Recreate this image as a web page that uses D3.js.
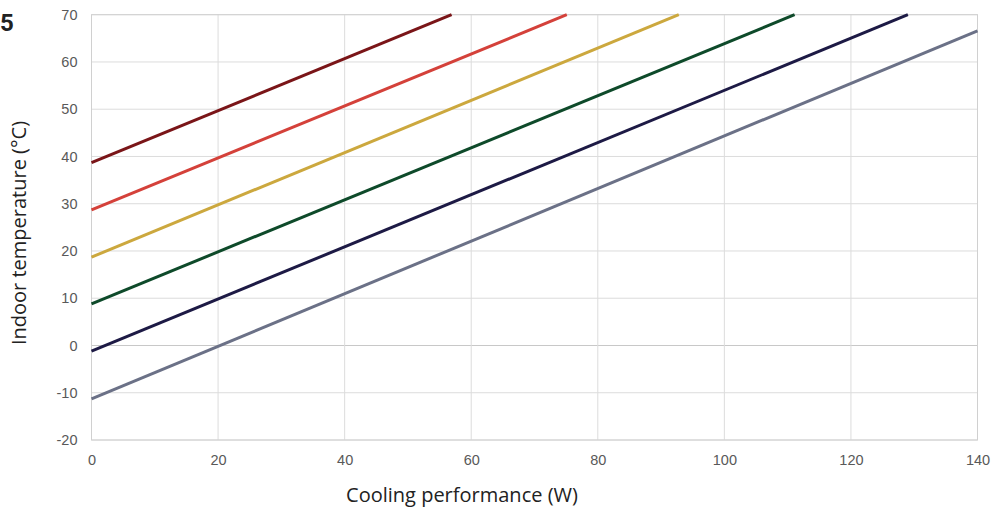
<!DOCTYPE html>
<html>
<head>
<meta charset="utf-8">
<script src="https://cdn.jsdelivr.net/npm/d3@7"></script>
<style>
  html, body { margin: 0; padding: 0; background: #fff; }
  svg { display: block; }
</style>
</head>
<body>
<svg id="chart" width="997" height="512"></svg>
<script>
// Cooling performance (W) vs indoor temperature (°C), one line per curve
const xTicks = [0, 20, 40, 60, 80, 100, 120, 140];
const yTicks = [-20, -10, 0, 10, 20, 30, 40, 50, 60, 70];

const curveA = [[0, 38.7], [56.9, 70]];
const curveB = [[0, 28.7], [75.1, 70]];
const curveC = [[0, 18.7], [92.8, 70]];
const curveD = [[0, 8.8], [111.1, 70]];
const curveE = [[0, -1.2], [129.0, 70]];
const curveF = [[0, -11.3], [140, 66.6]];

const curves = [curveA, curveB, curveC, curveD, curveE, curveF];
const colors = ["#7a1518", "#d4413a", "#cca83e", "#0e4a2a", "#1d1a45", "#6b7187"];

const svg = d3.select("#chart");
const plotL = 91.5, plotR = 977.5, plotT = 14.7, plotB = 440;

const x = d3.scaleLinear().domain([0, 140]).range([plotL, plotR]);
const y = d3.scaleLinear().domain([-20, 70]).range([plotB, plotT]);

// grid
svg.append("g").selectAll("line").data(yTicks).join("line")
  .attr("x1", plotL).attr("x2", plotR)
  .attr("y1", d => y(d)).attr("y2", d => y(d))
  .attr("stroke", d => d === 0 ? "#c8c8c8" : "#dcdcdc").attr("stroke-width", 1);
svg.append("g").selectAll("line").data(xTicks).join("line")
  .attr("y1", plotT).attr("y2", plotB)
  .attr("x1", d => x(d)).attr("x2", d => x(d))
  .attr("stroke", "#dcdcdc").attr("stroke-width", 1);
svg.append("rect").attr("x", plotL).attr("y", plotT)
  .attr("width", plotR - plotL).attr("height", plotB - plotT)
  .attr("fill", "none").attr("stroke", "#d0d0d0");

// tick labels (plain hyphen for negatives)
const fmt = d => String(d);
const yAxis = d3.axisLeft(y).tickValues(yTicks).tickSize(0).tickPadding(14).tickFormat(fmt);
const gy = svg.append("g").attr("transform", `translate(${plotL},0)`).call(yAxis);
const xAxis = d3.axisBottom(x).tickValues(xTicks).tickSize(0).tickPadding(14.5).tickFormat(fmt);
const gx = svg.append("g").attr("transform", `translate(0,${plotB})`).call(xAxis);
[gy, gx].forEach(g => {
  g.select(".domain").remove();
  g.selectAll("text").attr("fill", "#595959")
    .style("font-family", "'Liberation Sans', Arial, sans-serif").style("font-size", "14.5px");
});

// lines
const line = d3.line().x(d => x(d[0])).y(d => y(d[1]));
svg.append("g").selectAll("path").data(curves).join("path")
  .attr("d", line).attr("fill", "none")
  .attr("stroke", (d, i) => colors[i]).attr("stroke-width", 3);

// titles
svg.append("text").attr("x", 462).attr("y", 502).attr("text-anchor", "middle")
  .style("font-family", "'Open Sans', sans-serif").style("font-size", "20px").attr("fill", "#222")
  .text("Cooling performance (W)");
svg.append("text").attr("transform", "translate(26,233) rotate(-90)").attr("text-anchor", "middle")
  .style("font-family", "'Open Sans', sans-serif").style("font-size", "20px").attr("fill", "#222")
  .text("Indoor temperature (°C)");
svg.append("text").attr("x", 0).attr("y", 31)
  .style("font-family", "Roboto, sans-serif").style("font-size", "24px").style("font-weight", "bold").attr("fill", "#222")
  .text("5");
</script>
</body>
</html>
